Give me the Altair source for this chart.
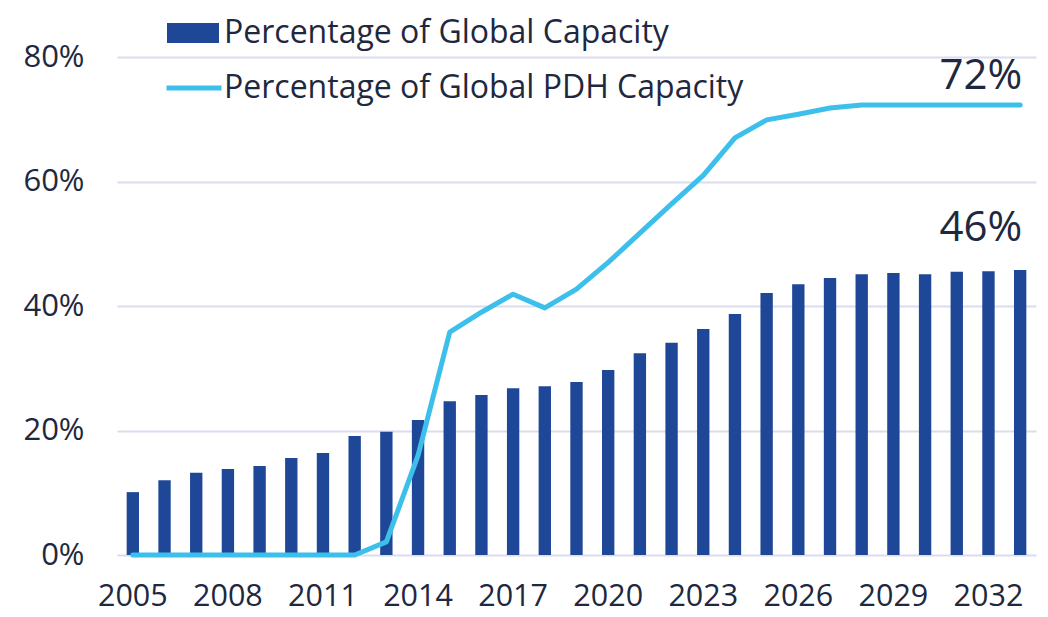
import altair as alt
import pandas as pd

years = list(range(2005, 2034))
global_capacity = [10.1, 12.0, 13.2, 13.8, 14.3, 15.6, 16.4, 19.1, 19.8, 21.7,
                   24.7, 25.7, 26.8, 27.1, 27.8, 29.7, 32.4, 34.1, 36.3, 38.7,
                   42.1, 43.5, 44.5, 45.1, 45.3, 45.1, 45.5, 45.6, 45.8]
pdh_capacity = [0.0, 0.0, 0.0, 0.0, 0.0, 0.0, 0.0, 0.0, 2.1, 16.0,
                35.8, 39.0, 41.9, 39.7, 42.7, 47.0, 51.7, 56.4, 61.0, 67.0,
                69.9, 70.8, 71.8, 72.3, 72.3, 72.3, 72.3, 72.3, 72.3]
bar_name = "Percentage of Global Capacity"
line_name = "Percentage of Global PDH Capacity"
x_ticks = [2005, 2008, 2011, 2014, 2017, 2020, 2023, 2026, 2029, 2032]
y_ticks = [0, 20, 40, 60, 80]

FONT = "Open Sans"
TEXT = "#1E2840"
BAR = "#1F4797"
LINE = "#3DBFEB"

df = pd.DataFrame({"year": years, "bar": global_capacity, "pdh": pdh_capacity,
                   "bs": bar_name, "ls": line_name})
last = df.tail(1)

x = alt.X("year:O", title=None,
          scale=alt.Scale(paddingInner=0.61, paddingOuter=0.305),
          axis=alt.Axis(values=x_ticks, labelAngle=0, ticks=False, domain=False,
                        labelFontSize=30.5, labelColor=TEXT, labelFont=FONT,
                        labelPadding=26, grid=False))
yscale = alt.Scale(domain=[0, 80], nice=False)

bars = alt.Chart(df).mark_bar().encode(
    x=x,
    y=alt.Y("bar:Q", title=None, scale=yscale,
            axis=alt.Axis(values=y_ticks, labelExpr="datum.value + '%'", ticks=False,
                          domain=False, labelFontSize=31, labelColor=TEXT, labelFont=FONT,
                          labelPadding=33, gridColor="#DADCEF", gridWidth=2)),
    fill=alt.Fill("bs:N", scale=alt.Scale(range=[BAR]),
                  legend=alt.Legend(title=None, orient="none", legendX=50, legendY=-50,
                                    symbolType="M-1,-0.385H1V0.385H-1Z", symbolSize=2704,
                                    symbolStrokeWidth=0, labelFontSize=32, labelFont=FONT,
                                    labelColor=TEXT, labelOffset=5, labelLimit=900)),
)

line = alt.Chart(df).mark_line(strokeWidth=5, strokeCap="round", strokeJoin="round").encode(
    x=x,
    y=alt.Y("pdh:Q", scale=yscale),
    stroke=alt.Stroke("ls:N", scale=alt.Scale(range=[LINE]),
                      legend=alt.Legend(title=None, orient="none", legendX=47, legendY=1,
                                        symbolType="stroke", symbolSize=3025,
                                        symbolStrokeWidth=5, labelFontSize=32, labelFont=FONT,
                                        labelColor=TEXT, labelOffset=0, labelLimit=900)),
)

t72 = alt.Chart(last).transform_calculate(
    lbl="format(datum.pdh, '.0f') + '%'"
).mark_text(align="right", baseline="bottom", fontSize=42, font=FONT,
            color=TEXT, dy=-7, dx=2).encode(
    x="year:O", y=alt.Y("pdh:Q", scale=yscale), text="lbl:N")
t46 = alt.Chart(last).transform_calculate(
    lbl="format(datum.bar, '.0f') + '%'"
).mark_text(align="right", baseline="bottom", fontSize=42, font=FONT,
            color=TEXT, dy=-20, dx=2).encode(
    x="year:O", y=alt.Y("bar:Q", scale=yscale), text="lbl:N")

chart = alt.layer(bars, line, t72, t46).resolve_legend(
    fill="independent", stroke="independent"
).properties(
    width=919, height=498,
    autosize=alt.AutoSizeParams(type="none"),
    padding={"left": 109, "top": 49, "right": 4, "bottom": 62},
).configure(background="white").configure_view(stroke=None)

chart.save("out.html", embed_options={"renderer": "svg", "actions": False})
